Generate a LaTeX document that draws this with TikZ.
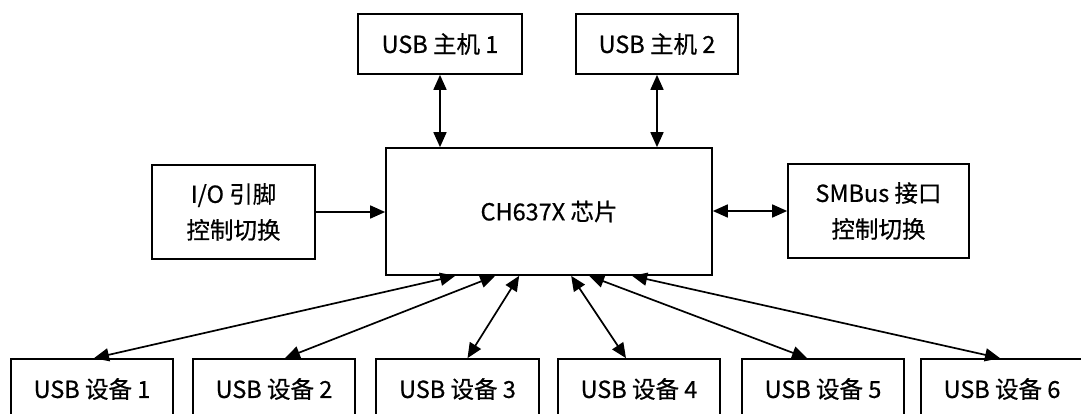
\documentclass[tikz,border=0pt]{standalone}
\usepackage{fontspec}
\setmainfont[FakeBold=0.6]{Noto Sans CJK SC}
\usetikzlibrary{arrows.meta,calc}
\begin{document}
\begin{tikzpicture}[x=1pt,y=-1pt,
  box/.style={draw,line width=1.7pt,inner sep=0pt,align=center,
    font=\fontsize{23.5}{36}\selectfont},
  link/.style={line width=1.7pt,{Triangle[length=15pt,width=13pt]}-{Triangle[length=15pt,width=13pt]}},
  oneway/.style={line width=1.7pt,-{Triangle[length=15pt,width=13pt]}}]
\useasboundingbox (0,0) rectangle (1081,413);
\clip (0,0) rectangle (1081,413);
% top hosts
\node[box,minimum width=164pt,minimum height=60pt] (h1) at (440,44) {USB 主机 1};
\node[box,minimum width=162pt,minimum height=60pt] (h2) at (657,44) {USB 主机 2};
% chip
\node[box,minimum width=326pt,minimum height=127pt] (chip) at (549,211.5) {CH637X 芯片};
% side boxes
\node[box,minimum width=163pt,minimum height=94pt] (io) at (233.5,212) {I/O 引脚\\控制切换};
\node[box,minimum width=181pt,minimum height=94pt] (smb) at (878.5,211) {SMBus 接口\\控制切换};
% devices
\node[box,minimum width=162pt,minimum height=60pt] (d1) at (92,389) {USB 设备 1};
\node[box,minimum width=162pt,minimum height=60pt] (d2) at (274,389) {USB 设备 2};
\node[box,minimum width=163pt,minimum height=60pt] (d3) at (457.5,389) {USB 设备 3};
\node[box,minimum width=162pt,minimum height=60pt] (d4) at (639,389) {USB 设备 4};
\node[box,minimum width=162pt,minimum height=60pt] (d5) at (823,389) {USB 设备 5};
\node[box,minimum width=162pt,minimum height=60pt] (d6) at (1002,389) {USB 设备 6};
% connectors
\draw[link] (h1.south) -- (h1.south |- chip.north);
\draw[link] (h2.south) -- (h2.south |- chip.north);
\draw[oneway] (io.east) -- (io.east -| chip.west);
\draw[link] (chip.east |- smb.west) -- (smb.west);
\coordinate (c1) at ($(chip.south west)+(70,0)$);
\coordinate (c2) at ($(chip.south west)+(110,0)$);
\coordinate (c3) at ($(chip.south west)+(134,0)$);
\coordinate (c4) at ($(chip.south west)+(186,0)$);
\coordinate (c5) at ($(chip.south west)+(204,0)$);
\coordinate (c6) at ($(chip.south west)+(247,0)$);
\coordinate (t1) at ($(d1.north)+(2,0)$);
\coordinate (t2) at ($(d2.north)+(11,0)$);
\coordinate (t3) at ($(d3.north)+(10,0)$);
\coordinate (t4) at ($(d4.north)+(-13,0)$);
\coordinate (t5) at ($(d5.north)+(-16,0)$);
\coordinate (t6) at ($(d6.north)+(-2,0)$);
\draw[link] (c1) -- (t1);
\draw[link] (c2) -- (t2);
\draw[link] (c3) -- (t3);
\draw[link] (c4) -- (t4);
\draw[link] (c5) -- (t5);
\draw[link] (c6) -- (t6);
\end{tikzpicture}
\end{document}
